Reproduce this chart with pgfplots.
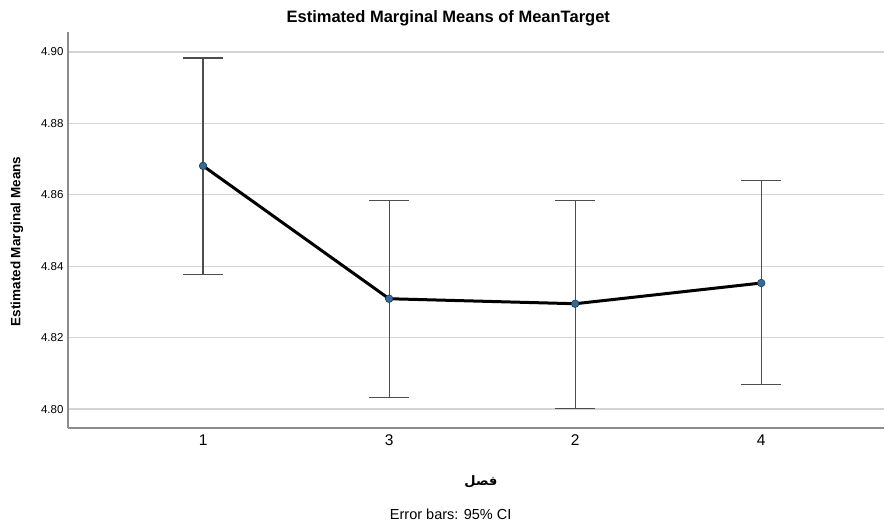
\documentclass[border=0pt]{standalone}
\usepackage{pgfplots}
\pgfplotsset{compat=1.18}
\usepackage{fontspec}
\setmainfont{Liberation Sans}
\newfontfamily\arabicfont[Script=Arabic]{DejaVu Sans}
\TeXXeTstate=1
\definecolor{gridc}{HTML}{D4D4D4}
\definecolor{axisc}{HTML}{8C8C8C}
\definecolor{errc}{HTML}{4D4D4D}
\definecolor{markc}{HTML}{2B6EA6}
\begin{document}
\begin{tikzpicture}
\useasboundingbox (-68pt,-93pt) rectangle (817pt,428pt);
\begin{axis}[
  at={(0pt,0pt)}, anchor=south west,
  scale only axis, width=816pt, height=396pt,
  xmin=-0.726, xmax=3.66,
  ymin=4.7947, ymax=4.9056,
  axis x line=bottom, axis y line=left,
  axis line style={axisc, line width=1.2pt, -},
  xtick={0,1,2,3}, xticklabels={1,3,2,4},
  ytick={4.80,4.82,4.84,4.86,4.88,4.90},
  major tick length=0pt,
  ymajorgrids, grid style={gridc, line width=1.2pt},
  /pgf/number format/assume math mode=true,
  yticklabel style={/pgf/number format/fixed, /pgf/number format/precision=2, /pgf/number format/fixed zerofill, font=\fontsize{11.5}{13}\selectfont, xshift=-1pt},
  xticklabel style={font=\fontsize{15.5}{18}\selectfont, yshift=-3pt},
  clip=false,
]
\addplot[draw=none, mark=none,
  error bars/.cd, y dir=both, y explicit,
  error bar style={errc, line width=1.2pt},
  error mark options={errc, line width=1.2pt, mark size=20pt, rotate=90}]
  table[x=x, y=y, y error plus=ep, y error minus=em] {
x y ep em
0 4.8681 0.0302 0.0305
1 4.8309 0.0274 0.0277
2 4.8295 0.0288 0.0294
3 4.8353 0.0286 0.0285
};
\addplot[black, line width=3pt, mark=*, mark size=3.8pt,
  mark options={fill=markc, draw=black!80, line width=0.6pt}]
  table[x=x, y=y] {
x y
0 4.8681
1 4.8309
2 4.8295
3 4.8353
};
\node[font=\fontsize{16.5}{19}\selectfont\bfseries, anchor=base] at ([yshift=9pt]rel axis cs:0.466,1) {Estimated Marginal Means of MeanTarget};
\node[font=\fontsize{13.5}{16}\selectfont\bfseries, rotate=90, anchor=center] at ([xshift=-51pt]rel axis cs:0,0.471) {Estimated Marginal Means};
\node[font=\fontsize{13}{15}\selectfont, anchor=center] at ([yshift=-54pt]rel axis cs:0.506,0) {\arabicfont\bfseries\beginR فصل\endR};
\node[font=\fontsize{14.5}{17}\selectfont, anchor=center] at ([yshift=-86pt]rel axis cs:0.469,0) {Error bars: 95\% CI};
\end{axis}
\end{tikzpicture}
\end{document}
